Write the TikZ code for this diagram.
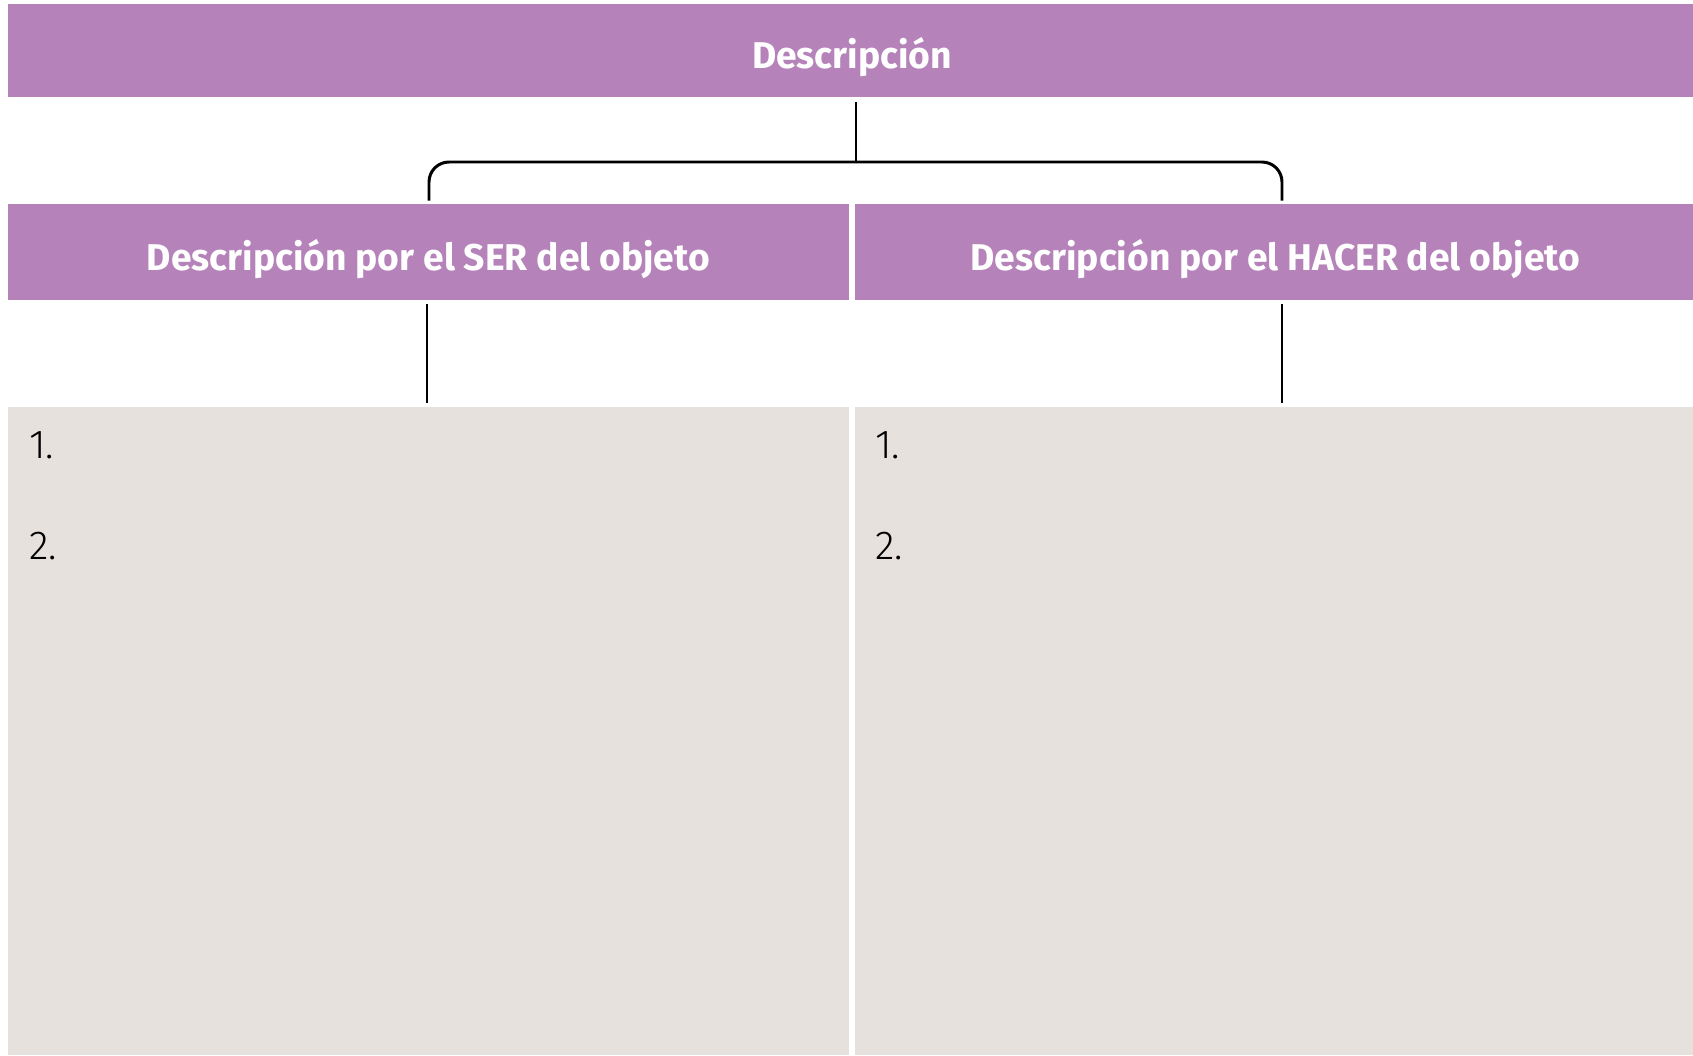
\documentclass[tikz,border=0pt]{standalone}
\usepackage{fontspec}
\setsansfont{Fira Sans}
\newfontfamily\numfont{Fira Sans Light}
\usetikzlibrary{positioning,calc}
\definecolor{headpurple}{RGB}{181,131,186}
\definecolor{boxgray}{RGB}{230,225,221}

\begin{document}
\begin{tikzpicture}[
    line width=0.85pt,
    %
    head/.style={fill=headpurple, inner sep=0pt, minimum height=0.93cm, text=white,
                 text height=0.36cm, text depth=0cm,
                 font=\sffamily\bfseries\fontsize{10.6}{12}\selectfont},
    sub/.style={fill=headpurple, inner sep=0pt, minimum width=8.41cm, minimum height=0.96cm,
                text=white, text height=0.36cm, text depth=0cm,
                font=\sffamily\bfseries\fontsize{10.6}{12}\selectfont},
    panel/.style={fill=boxgray, inner sep=0pt, minimum width=8.41cm, minimum height=6.48cm},
    %
    num/.style={font=\numfont\fontsize{11.5}{14}\selectfont, anchor=base west, inner sep=0pt}
    ]
    \useasboundingbox (0,0) rectangle (16.93,10.55);

    \node[head, minimum width=16.88cm] (desc) at (8.52,10.045) {Descripción};
    \node[sub]   (ser)      at (4.285,8.03)  {Descripción por el SER del objeto};
    \node[sub]   (hacer)    at (12.755,8.03) {Descripción por el HACER del objeto};
    \node[panel] (serbox)   at (4.285,3.24)  {};
    \node[panel] (hacerbox) at (12.755,3.24) {};
    %
    \node[num] (ser1)   at ([xshift=0.21cm,yshift=-0.53cm]serbox.north west)   {1.};
    \node[num] (ser2)   at ([xshift=0.21cm,yshift=-1.54cm]serbox.north west)   {2.};
    \node[num] (hacer1) at ([xshift=0.20cm,yshift=-0.53cm]hacerbox.north west) {1.};
    \node[num] (hacer2) at ([xshift=0.20cm,yshift=-1.54cm]hacerbox.north west) {2.};
    %
    \coordinate (fork) at (8.56,8.93);
    \draw ([xshift=0.04cm,yshift=-0.04cm]desc.south) -- (fork);
    \draw[rounded corners=0.2cm] (fork) -| ([xshift=0.005cm,yshift=0.02cm]ser.north);
    \draw[rounded corners=0.2cm] (fork) -| ([xshift=0.065cm,yshift=0.02cm]hacer.north);
    \draw ([xshift=-0.015cm,yshift=-0.03cm]ser.south) -- ([xshift=-0.015cm,yshift=0.03cm]serbox.north);
    \draw ([xshift=0.065cm,yshift=-0.03cm]hacer.south) -- ([xshift=0.065cm,yshift=0.03cm]hacerbox.north);

\end{tikzpicture}
\end{document}
